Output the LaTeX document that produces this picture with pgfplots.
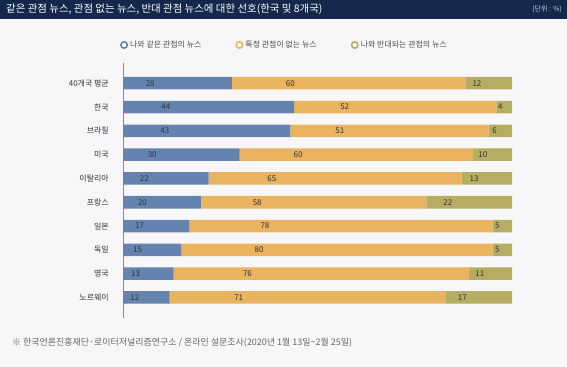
\documentclass[border=0pt]{standalone}
\usepackage{fontspec}
\setmainfont{Noto Sans CJK KR}
\usepackage{pgfplots}
\usepackage{pgfplotstable}
\pgfplotsset{compat=1.18}
\definecolor{cblue}{HTML}{6583AF}
\definecolor{corange}{HTML}{E9B35F}
\definecolor{colive}{HTML}{B4AD62}
\definecolor{navy}{HTML}{14284B}
\definecolor{bg}{HTML}{F7F7F9}
\pgfplotstableread{
idx a b c
0 28 60 12
1 44 52 4
2 43 51 6
3 30 60 10
4 22 65 13
5 20 58 22
6 17 78 5
7 15 80 5
8 13 76 11
9 12 71 17
}\datatable
\begin{document}
\begin{tikzpicture}
\useasboundingbox (0bp,0bp) rectangle (567bp,367bp);
\fill[bg] (0bp,0bp) rectangle (567bp,367bp);
\fill[navy] (0bp,348bp) rectangle (567bp,367bp);
\node[anchor=west, text=white, font=\fontsize{10.5}{10.5}\selectfont, inner sep=0] at (6bp,357.5bp) {같은 관점 뉴스, 관점 없는 뉴스, 반대 관점 뉴스에 대한 선호(한국 및 8개국)};
\node[anchor=east, text=white!80!navy, font=\fontsize{7}{7}\selectfont, inner sep=0] at (562bp,357.5bp) {(단위 : \%)};
\node[anchor=west, text=black!60, font=\fontsize{9}{9}\selectfont, inner sep=0] at (12bp,24bp) {※ 한국언론진흥재단·로이터저널리즘연구소 / 온라인 설문조사(2020년 1월 13일\textasciitilde 2월 25일)};
\begin{axis}[
  at={(123bp,49.3bp)}, anchor=south west,
  scale only axis, width=389bp, height=254.7bp,
  xbar stacked, bar width=12.5bp,
  xmin=0, xmax=100, ymin=-0.85, ymax=9.85, y dir=reverse,
  axis x line=none, axis y line*=left,
  axis line style={draw=black!45, line width=0.8pt},
  ytick={0,...,9},
  yticklabels={40개국 평균, 한국, 브라질, 미국, 이탈리아, 프랑스, 일본, 독일, 영국, 노르웨이},
  major tick length=0pt,
  yticklabel style={font=\fontsize{8}{8}\selectfont, text=black!80, inner sep=0pt, xshift=-14bp},
  /pgf/number format/assume math mode=true,
  nodes near coords,
  point meta=explicit,
  every node near coord/.append style={font=\fontsize{8}{8}\selectfont, text=black!80, anchor=center, inner sep=0pt},
  legend columns=3,
  legend style={at={(0.415,1)}, anchor=center, yshift=18bp, draw=none, fill=none,
    font=\fontsize{8}{8}\selectfont, text=black!70,
    /tikz/every even column/.append style={column sep=32bp}},
  legend cell align=left,
]
\addplot[fill=cblue, draw=none,
  visualization depends on={\thisrow{a} \as \seg},
  every node near coord/.append style={shift={(axis direction cs:-\seg/4,0)}},
  legend image code/.code={\draw[draw=cblue, line width=1.6bp, fill=white] (0bp,0bp) circle (3.2bp);}]
  table[x=a, y=idx, meta=a] {\datatable};
\addplot[fill=corange, draw=none,
  visualization depends on={\thisrow{b} \as \seg},
  every node near coord/.append style={shift={(axis direction cs:-\seg/4,0)}},
  legend image code/.code={\draw[draw=corange, line width=1.6bp, fill=white] (0bp,0bp) circle (3.2bp);}]
  table[x=b, y=idx, meta=b] {\datatable};
\addplot[fill=colive, draw=none,
  visualization depends on={\thisrow{c} \as \seg},
  every node near coord/.append style={shift={(axis direction cs:-\seg/4,0)}},
  legend image code/.code={\draw[draw=colive, line width=1.6bp, fill=white] (0bp,0bp) circle (3.2bp);}]
  table[x=c, y=idx, meta=c] {\datatable};
\legend{나와 같은 관점의 뉴스, 특정 관점이 없는 뉴스, 나와 반대되는 관점의 뉴스}
\end{axis}
\end{tikzpicture}
\end{document}
